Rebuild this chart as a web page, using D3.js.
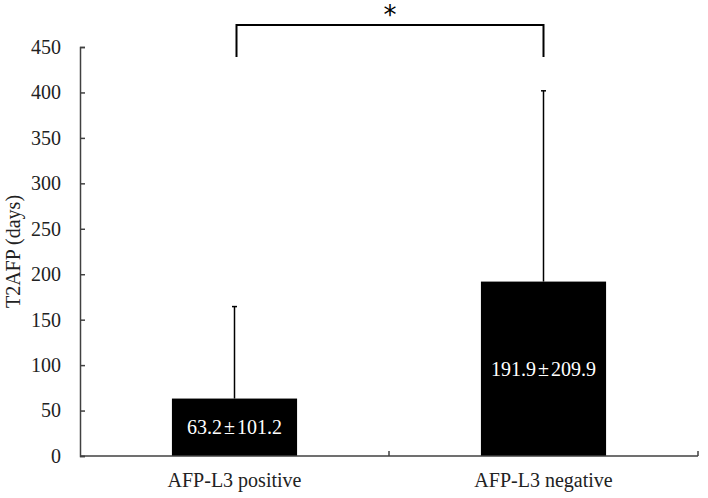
<!DOCTYPE html>
<html>
<head>
<meta charset="utf-8">
<script src="https://cdn.jsdelivr.net/npm/d3@7"></script>
<style>
  body { margin: 0; background: #fff; }
  text { font-family: "Liberation Serif", "Times New Roman", serif; }
</style>
</head>
<body>
<div id="chart"></div>
<script>
// chart data
var groups = ["AFP-L3 positive", "AFP-L3 negative"];
var means = [63.2, 191.9];
var sds = [101.2, 209.9];
var barLabels = [["63.2", "101.2"], ["191.9", "209.9"]];
var yTicks = [0, 50, 100, 150, 200, 250, 300, 350, 400, 450];

var svg = d3.select("#chart")
  .append("svg")
  .attr("width", 708)
  .attr("height", 498);

var margin = { top: 47, right: 10, bottom: 42, left: 80 };
var width = 708 - margin.left - margin.right;
var height = 498 - margin.top - margin.bottom;

var x = d3.scaleBand().domain(groups).range([0, width]).padding(0);
var y = d3.scaleLinear().domain([0, 450]).range([height, 0]);

var g = svg.append("g")
  .attr("transform", "translate(" + margin.left + "," + margin.top + ")");

var axisColor = "#404040";
var barW = x.bandwidth() * 0.405;

// bars
g.selectAll(".bar")
  .data(groups)
  .enter()
  .append("rect")
  .attr("class", "bar")
  .attr("x", function (d) { return x(d) + x.bandwidth() / 2 - barW / 2; })
  .attr("y", function (d, i) { return y(means[i]); })
  .attr("width", barW)
  .attr("height", function (d, i) { return height - y(means[i]); })
  .attr("fill", "#000");

// error bars (upper only)
g.selectAll(".err")
  .data(groups)
  .enter()
  .append("line")
  .attr("x1", function (d) { return x(d) + x.bandwidth() / 2; })
  .attr("x2", function (d) { return x(d) + x.bandwidth() / 2; })
  .attr("y1", function (d, i) { return y(means[i]); })
  .attr("y2", function (d, i) { return y(means[i] + sds[i]); })
  .attr("stroke", "#000")
  .attr("stroke-width", 1.5);

g.selectAll(".cap")
  .data(groups)
  .enter()
  .append("line")
  .attr("x1", function (d) { return x(d) + x.bandwidth() / 2 - 2.5; })
  .attr("x2", function (d) { return x(d) + x.bandwidth() / 2 + 2.5; })
  .attr("y1", function (d, i) { return y(means[i] + sds[i]); })
  .attr("y2", function (d, i) { return y(means[i] + sds[i]); })
  .attr("stroke", "#000")
  .attr("stroke-width", 1.5);

// value labels inside bars (wide ± like the original)
var lbl = g.selectAll(".lbl")
  .data(groups)
  .enter()
  .append("text")
  .attr("x", function (d) { return x(d) + x.bandwidth() / 2; })
  .attr("y", function (d, i) { return y(means[i] / 2) + 7; })
  .attr("text-anchor", "middle")
  .attr("font-size", "20px")
  .attr("fill", "#fff");
lbl.append("tspan").text(function (d, i) { return barLabels[i][0]; });
lbl.append("tspan").attr("dx", 2).text("\u00b1");
lbl.append("tspan").attr("dx", 2).text(function (d, i) { return barLabels[i][1]; });

// y axis
var yAxis = g.append("g")
  .call(d3.axisLeft(y).tickValues(yTicks).tickSize(-5).tickPadding(19));
yAxis.select(".domain").attr("stroke", axisColor).attr("stroke-width", 1.5);
yAxis.selectAll(".tick line").attr("stroke", axisColor).attr("stroke-width", 1.5);
yAxis.selectAll(".tick text")
  .style("font-size", "20px")
  .attr("fill", "#222")
  .style("font-family", "Liberation Serif, serif");

// x axis line with ticks between categories
g.append("line")
  .attr("x1", 0).attr("x2", width)
  .attr("y1", height).attr("y2", height)
  .attr("stroke", axisColor).attr("stroke-width", 1.5);

g.selectAll(".xtick")
  .data([groups[1], null])
  .enter()
  .append("line")
  .attr("x1", function (d) { return d ? x(d) : width; })
  .attr("x2", function (d) { return d ? x(d) : width; })
  .attr("y1", height).attr("y2", height - 5)
  .attr("stroke", axisColor).attr("stroke-width", 1.5);

g.selectAll(".xlbl")
  .data(groups)
  .enter()
  .append("text")
  .attr("x", function (d) { return x(d) + x.bandwidth() / 2; })
  .attr("y", height + 31)
  .attr("text-anchor", "middle")
  .attr("font-size", "20px")
  .attr("fill", "#222")
  .text(function (d) { return d; });

// y axis title
svg.append("text")
  .attr("transform", "translate(20," + (margin.top + height / 2) + ") rotate(-90)")
  .attr("text-anchor", "middle")
  .attr("font-size", "20px")
  .attr("fill", "#222")
  .text("T2AFP (days)");

// significance bracket
var c1 = x(groups[0]) + x.bandwidth() / 2 + 2;
var c2 = x(groups[1]) + x.bandwidth() / 2;
var bTop = 25 - margin.top, bBot = 57 - margin.top;
g.append("path")
  .attr("d", "M" + c1 + "," + bBot + "V" + bTop + "H" + c2 + "V" + bBot)
  .attr("fill", "none")
  .attr("stroke", "#000")
  .attr("stroke-width", 2);

g.append("text")
  .attr("x", (c1 + c2) / 2)
  .attr("y", 24 - margin.top)
  .attr("text-anchor", "middle")
  .attr("font-size", "26px")
  .style("font-family", "DejaVu Sans, sans-serif")
  .attr("fill", "#000")
  .text("*");
</script>
</body>
</html>
